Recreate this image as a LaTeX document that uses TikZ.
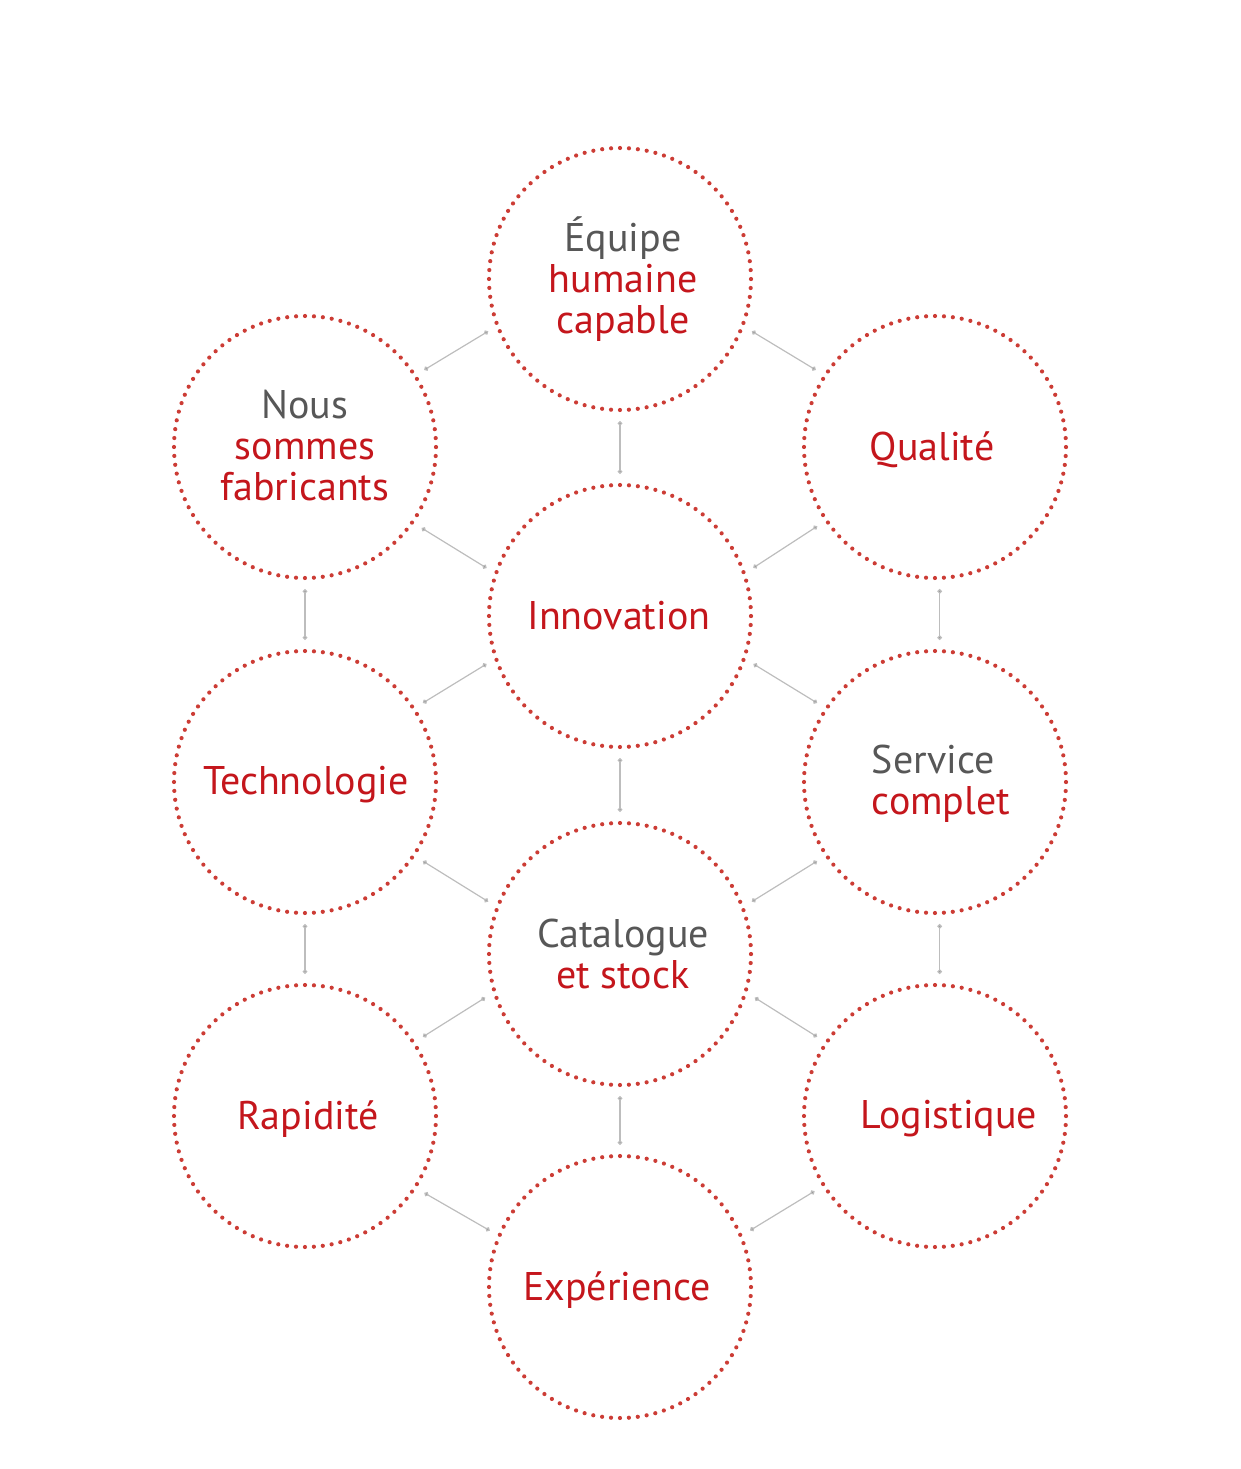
\documentclass[tikz,border=0pt]{standalone}
\usepackage{fontspec}
\setmainfont{PT Sans}
\usepackage{tikz}
\usetikzlibrary{arrows.meta}
\usepackage{xcolor}

\definecolor{ringred}{HTML}{CC3C35}
\definecolor{textred}{HTML}{C4161C}
\definecolor{textgray}{HTML}{575757}
\definecolor{linkgray}{HTML}{BDBDBD}

\tikzset{
  ring/.style={circle, minimum size=262pt, inner sep=0pt, draw=ringred,
    line width=4.2pt, line cap=round, dash pattern=on 0pt off 8.947pt},
  lbl/.style={font=\fontsize{40}{41}\selectfont, text=textred, align=center, inner sep=0pt},
  link/.style={draw=linkgray, line width=1.2pt, shorten <=9pt, shorten >=9pt,
    {Circle[length=4.6pt, fill=linkgray!80!black]}-{Circle[length=4.6pt, fill=linkgray!80!black]}}
}
\newcommand{\gr}[1]{\textcolor{textgray}{#1}}

\begin{document}
\begin{tikzpicture}[x=1pt, y=-1pt]
  \useasboundingbox (0,0) rectangle (1240,1469);

  % Circles
  \node[ring] (equipe)     at (620,279)  {};
  \node[ring] (nous)       at (305,447)  {};
  \node[ring] (qualite)    at (935,447)  {};
  \node[ring] (innovation) at (620,616)  {};
  \node[ring] (techno)     at (305,782)  {};
  \node[ring] (service)    at (935,782)  {};
  \node[ring] (catalogue)  at (620,954)  {};
  \node[ring] (rapidite)   at (305,1116) {};
  \node[ring] (logistique) at (935,1116) {};
  \node[ring] (experience) at (620,1287) {};

  % Labels
  \node[lbl, xshift=3pt]  (equipe-t)     at (equipe)     {\gr{Équipe}\\humaine\\capable};
  \node[lbl, yshift=1pt]  (nous-t)       at (nous)       {\gr{Nous}\\sommes\\fabricants};
  \node[lbl, xshift=-3pt, yshift=-3pt] (qualite-t) at (qualite) {Qualité};
  \node[lbl, xshift=-1pt] (innovation-t) at (innovation) {Innovation};
  \node[lbl, xshift=1pt, yshift=-3pt]  (techno-t)  at (techno)  {Technologie};
  \node[lbl, xshift=6pt, yshift=-2pt, align=left] (service-t) at (service) {\gr{Service}\\complet};
  \node[lbl, xshift=3pt]  (catalogue-t)  at (catalogue)  {\gr{Catalogue}\\et stock};
  \node[lbl, xshift=3pt, yshift=-3pt]  (rapidite-t)   at (rapidite)   {Rapidité};
  \node[lbl, xshift=14pt, yshift=-3pt] (logistique-t) at (logistique) {Logistique};
  \node[lbl, xshift=-3pt, yshift=-3pt] (experience-t) at (experience) {Expérience};

  % Connectors
  \draw[link] (equipe.201) -- (nous.33);
  \draw[link] (equipe.339) -- (qualite.147);
  \draw[link] (equipe.270) -- (innovation.90);
  \draw[link] (nous.325) -- (innovation.161);
  \draw[link] (qualite.214) -- (innovation.19);
  \draw[link] (nous.270) -- (techno.90);
  \draw[link] (qualite.272) -- (service.88);
  \draw[link] (innovation.199) -- (techno.34);
  \draw[link] (innovation.341) -- (service.146);
  \draw[link] (innovation.270) -- (catalogue.90);
  \draw[link] (techno.326) -- (catalogue.159);
  \draw[link] (service.214) -- (catalogue.21);
  \draw[link] (techno.270) -- (rapidite.90);
  \draw[link] (service.272) -- (logistique.88);
  \draw[link] (catalogue.197) -- (rapidite.34);
  \draw[link] (catalogue.343) -- (logistique.146);
  \draw[link] (catalogue.270) -- (experience.90);
  \draw[link] (rapidite.327) -- (experience.157);
  \draw[link] (logistique.212) -- (experience.23);
\end{tikzpicture}
\end{document}
